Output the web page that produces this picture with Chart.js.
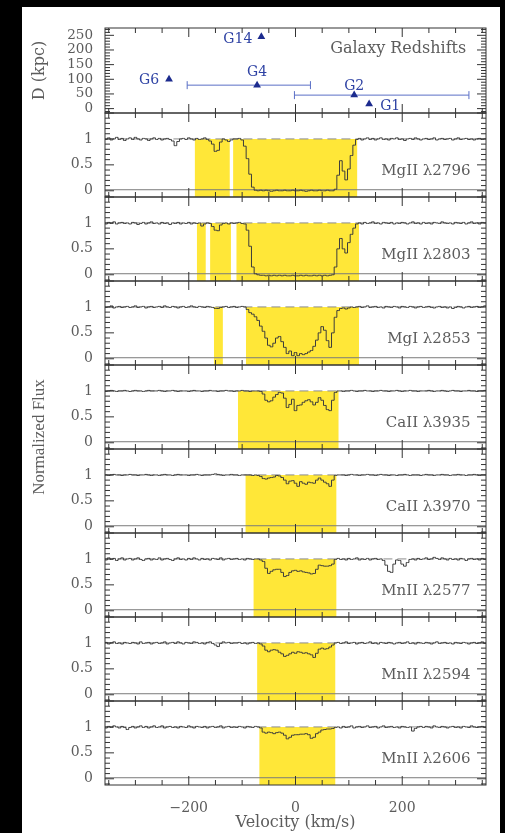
<!DOCTYPE html>
<html>
<head>
<meta charset="utf-8">
<script src="https://cdn.jsdelivr.net/npm/chart.js@4.4.1/dist/chart.umd.min.js"></script>
<style>
  html, body { margin: 0; padding: 0; background: #000; }
  #wrap { position: absolute; left: 22px; top: 7px; width: 478px; height: 826px; background: #fff; }
  canvas { display: block; }
</style>
</head>
<body>
<div id="wrap"><canvas id="absChart" width="478" height="826"></canvas></div>
<script>
// velocity grid of the spectra (km/s), one pixel every 5 km/s
const velocity = Array.from({ length: 145 }, (_, i) => -360 + 5 * i);

const velocityTicks = [-200, 0, 200];
const fluxTicks = [0, 0.5, 1];
const distTicks = [0, 50, 100, 150, 200, 250];

// top panel: galaxies near the absorber
const galaxyNames = ['G6', 'G14', 'G4', 'G2', 'G1'];
const galaxyVelocity = [-237, -64, -72, 110, 138];
const galaxyDistance = [100, 245, 80, 46, 16];
const galaxyVelLow = [null, null, -203, -2, null];
const galaxyVelHigh = [null, null, 28, 325, null];

const panelNames = ['MgII λ2796', 'MgII λ2803', 'MgI λ2853', 'CaII λ3935',
  'CaII λ3970', 'MnII λ2577', 'MnII λ2594', 'MnII λ2606'];

// shaded velocity windows [from, to] per transition
const windowsMgII2796 = [[-189, -123], [-117, 116]];
const windowsMgII2803 = [[-185, -168], [-160, -121], [-111, 119]];
const windowsMgI2853 = [[-153, -136], [-93, 119]];
const windowsCaII3935 = [[-108, 81]];
const windowsCaII3970 = [[-94, 77]];
const windowsMnII2577 = [[-79, 77]];
const windowsMnII2594 = [[-72, 75]];
const windowsMnII2606 = [[-68, 75]];

// normalized flux, rows of 50 km/s starting at -360
const fluxMgII2796 = [
  1.01, 0.99, 1.02, 0.98, 1.00, 1.03, 0.99, 1.01, 0.97, 1.00,
  1.02, 0.99, 1.03, 1.00, 0.98, 1.01, 1.00, 0.97, 1.00, 1.02,
  0.99, 1.01, 0.98, 1.00, 1.01, 0.99, 0.96, 0.87, 0.95, 1.00,
  1.01, 0.99, 1.02, 1.00, 0.98, 1.01, 0.99, 1.00, 1.02, 0.99,
  0.96, 0.90, 0.76, 0.78, 0.94, 1.00, 0.98, 0.95, 0.98, 1.00,
  1.00, 1.01, 0.98, 0.86, 0.62, 0.32, 0.07, 0.01, 0.00, 0.01,
  0.00, 0.01, 0.00, -0.01, 0.00, 0.01, 0.00, 0.00, 0.01, 0.00,
  0.00, 0.01, 0.00, 0.00, 0.01, 0.00, -0.01, 0.00, 0.01, 0.00,
  0.00, 0.01, 0.00, 0.00, 0.01, 0.00, 0.00, 0.03, 0.30, 0.58,
  0.38, 0.21, 0.42, 0.68, 0.88, 0.99, 1.01, 0.98, 1.00, 1.02,
  0.99, 1.01, 0.98, 1.00, 1.02, 0.99, 1.00, 0.98, 1.01, 1.00,
  1.02, 0.99, 1.00, 0.97, 1.00, 1.01, 0.99, 1.02, 1.00, 0.98,
  1.00, 1.01, 0.99, 1.00, 1.02, 0.98, 1.00, 1.01, 0.99, 1.00,
  1.01, 0.98, 1.00, 1.02, 0.99, 1.00, 1.01, 0.99, 1.00, 0.98,
  1.00, 1.01, 0.99, 1.00, 1.01
];
const fluxMgII2803 = [
  1.00, 0.98, 1.01, 0.99, 1.02, 0.98, 1.00, 1.01, 0.99, 1.00,
  0.98, 1.01, 1.00, 0.97, 0.99, 1.01, 0.98, 1.00, 1.02, 0.99,
  1.00, 0.98, 1.01, 0.99, 1.00, 0.97, 1.00, 0.99, 1.01, 0.98,
  1.00, 0.99, 1.01, 0.98, 1.00, 0.99, 1.00, 0.94, 0.98, 1.00,
  0.99, 0.93, 0.86, 0.85, 0.96, 0.99, 1.00, 0.98, 1.00, 0.99,
  1.00, 1.01, 0.99, 0.98, 0.86, 0.55, 0.15, 0.02, 0.00, -0.01,
  -0.01, -0.02, -0.01, -0.02, -0.01, -0.02, -0.01, -0.02, -0.01, -0.02,
  -0.02, -0.01, -0.02, -0.02, -0.01, -0.02, -0.01, -0.02, -0.02, -0.01,
  -0.02, -0.01, -0.02, -0.01, -0.02, -0.01, 0.00, 0.15, 0.50, 0.70,
  0.50, 0.42, 0.62, 0.78, 0.90, 0.98, 1.00, 0.98, 1.01, 0.99,
  1.00, 1.02, 0.99, 1.00, 0.98, 1.01, 1.00, 0.99, 1.01, 0.98,
  1.00, 0.99, 1.01, 1.00, 0.98, 1.00, 1.02, 0.99, 1.00, 0.98,
  1.01, 0.99, 1.00, 0.98, 1.01, 1.00, 0.99, 1.02, 1.00, 0.99,
  1.00, 0.98, 1.01, 1.00, 0.99, 1.01, 0.98, 1.00, 1.02, 0.99,
  1.00, 0.98, 1.01, 1.00, 0.99
];
const fluxMgI2853 = [
  1.01, 0.99, 1.00, 1.02, 0.98, 1.00, 1.01, 0.99, 1.00, 1.01,
  0.99, 1.00, 1.02, 0.99, 1.00, 1.01, 0.98, 1.00, 1.01, 0.99,
  1.00, 1.01, 0.99, 1.02, 1.00, 0.99, 1.01, 1.00, 0.98, 1.00,
  1.01, 0.99, 1.00, 1.02, 1.00, 0.99, 1.01, 1.00, 0.99, 1.01,
  1.00, 0.99, 0.97, 0.97, 0.99, 1.00, 1.01, 0.99, 1.00, 1.01,
  0.99, 1.00, 1.01, 1.00, 0.95, 0.89, 0.86, 0.81, 0.74, 0.63,
  0.53, 0.40, 0.26, 0.23, 0.30, 0.40, 0.43, 0.33, 0.22, 0.10,
  0.15, 0.06, 0.12, 0.06, 0.10, 0.08, 0.10, 0.13, 0.16, 0.24,
  0.36, 0.50, 0.62, 0.55, 0.35, 0.22, 0.50, 0.80, 0.93, 0.97,
  0.98, 0.96, 0.98, 1.00, 0.99, 1.00, 1.01, 0.99, 1.00, 1.02,
  0.99, 1.00, 1.01, 0.99, 1.00, 0.98, 1.01, 1.00, 0.99, 1.01,
  1.00, 0.98, 1.01, 1.00, 0.99, 1.01, 1.00, 0.98, 1.00, 1.01,
  0.99, 1.00, 1.01, 0.99, 0.98, 1.00, 1.01, 0.99, 1.00, 0.98,
  1.00, 0.97, 0.99, 1.01, 1.00, 0.98, 1.00, 1.01, 0.99, 1.00,
  1.01, 0.99, 1.00, 1.02, 1.00
];
const fluxCaII3935 = [
  1.00, 0.99, 1.00, 1.01, 1.00, 0.99, 1.00, 1.00, 1.01, 1.00,
  0.99, 1.00, 1.01, 1.00, 1.00, 0.99, 1.00, 1.01, 1.00, 1.00,
  1.00, 1.01, 1.00, 0.99, 1.00, 1.00, 1.01, 1.00, 0.99, 1.00,
  1.00, 1.00, 0.99, 1.00, 1.01, 1.00, 1.00, 0.99, 1.00, 1.00,
  1.01, 1.00, 1.00, 0.99, 1.00, 1.00, 1.01, 1.00, 1.00, 0.99,
  1.00, 1.00, 1.01, 1.00, 1.00, 0.99, 1.00, 1.00, 1.00, 0.99,
  0.94, 0.82, 0.79, 0.81, 0.88, 0.93, 0.97, 0.96, 0.86, 0.68,
  0.74, 0.84, 0.62, 0.72, 0.73, 0.78, 0.81, 0.83, 0.79, 0.73,
  0.78, 0.87, 0.82, 0.72, 0.64, 0.62, 0.82, 0.97, 1.00, 1.00,
  0.99, 1.00, 1.00, 1.01, 1.00, 0.99, 1.00, 1.00, 1.01, 1.00,
  1.00, 0.99, 1.00, 1.00, 1.01, 1.00, 1.00, 0.99, 1.00, 1.00,
  1.01, 1.00, 0.99, 1.00, 1.00, 1.01, 1.00, 1.00, 0.99, 1.00,
  1.00, 1.00, 1.01, 1.00, 0.99, 1.00, 1.00, 1.01, 1.00, 0.99,
  1.00, 1.01, 1.00, 1.00, 0.99, 1.00, 1.00, 1.01, 1.00, 1.00,
  0.99, 1.00, 1.00, 1.01, 1.00
];
const fluxCaII3970 = [
  1.00, 1.00, 0.99, 1.00, 1.01, 1.00, 1.00, 0.99, 1.00, 1.00,
  1.01, 1.00, 1.00, 0.99, 1.00, 1.00, 1.01, 1.00, 0.99, 1.00,
  1.00, 0.99, 1.00, 1.01, 1.00, 1.00, 0.99, 1.00, 1.01, 1.00,
  1.00, 1.00, 0.99, 1.00, 1.00, 1.01, 1.00, 0.99, 1.00, 1.00,
  1.00, 1.01, 1.02, 1.01, 1.00, 0.99, 1.00, 1.00, 1.01, 1.00,
  1.00, 0.99, 1.00, 1.00, 1.00, 1.00, 0.99, 1.00, 0.99, 0.97,
  0.93, 0.92, 0.94, 0.95, 0.96, 0.99, 0.98, 0.95, 0.90, 0.83,
  0.88, 0.89, 0.84, 0.78, 0.87, 0.84, 0.82, 0.86, 0.85, 0.84,
  0.90, 0.94, 0.90, 0.86, 0.83, 0.78, 0.90, 0.99, 1.00, 1.00,
  1.00, 0.99, 1.00, 1.01, 1.00, 1.00, 0.99, 1.00, 1.00, 1.01,
  1.00, 1.00, 0.99, 1.00, 1.01, 1.00, 1.00, 0.99, 1.00, 1.00,
  0.99, 1.00, 1.00, 1.01, 1.00, 0.99, 1.00, 1.00, 1.00, 0.99,
  1.00, 1.01, 1.00, 1.00, 0.99, 1.00, 1.00, 1.01, 1.00, 1.00,
  0.99, 1.00, 1.00, 1.01, 1.00, 1.00, 0.99, 1.00, 1.00, 1.01,
  1.00, 0.99, 1.00, 1.00, 1.00
];
const fluxMnII2577 = [
  1.00, 0.98, 1.02, 0.99, 1.01, 0.97, 1.00, 1.02, 0.98, 1.00,
  1.01, 0.98, 1.00, 1.02, 0.99, 0.97, 1.00, 1.01, 0.98, 1.00,
  0.99, 1.02, 0.98, 1.00, 1.01, 0.99, 0.97, 1.00, 1.02, 0.99,
  1.00, 0.98, 1.01, 0.99, 1.02, 1.00, 0.98, 1.01, 0.99, 1.00,
  0.98, 1.01, 1.00, 0.99, 1.02, 0.98, 1.00, 1.01, 0.99, 1.00,
  1.01, 0.99, 1.00, 0.98, 1.01, 1.00, 0.99, 1.00, 1.00, 0.98,
  0.95, 0.82, 0.72, 0.76, 0.79, 0.80, 0.80, 0.74, 0.66, 0.68,
  0.74, 0.77, 0.78, 0.76, 0.77, 0.75, 0.74, 0.73, 0.71, 0.72,
  0.80, 0.88, 0.87, 0.86, 0.86, 0.87, 0.90, 0.99, 1.01, 0.99,
  1.00, 0.98, 1.01, 0.99, 1.00, 1.02, 0.98, 1.00, 0.99, 1.01,
  0.98, 1.00, 1.01, 0.99, 1.00, 0.97, 0.88, 0.76, 0.74, 0.90,
  0.98, 0.97, 0.90, 0.86, 0.93, 0.99, 1.00, 0.98, 1.01, 0.99,
  1.00, 1.02, 0.99, 1.00, 1.03, 1.01, 0.99, 1.02, 1.00, 0.98,
  1.01, 0.99, 1.00, 0.98, 1.01, 1.00, 0.97, 1.00, 1.01, 0.99,
  1.00, 0.98, 1.01, 0.99, 1.00
];
const fluxMnII2594 = [
  0.99, 1.01, 0.98, 1.00, 1.02, 0.99, 1.00, 0.98, 1.01, 1.00,
  0.99, 1.01, 1.00, 0.98, 1.02, 0.99, 1.00, 1.01, 0.98, 1.00,
  1.01, 0.99, 1.00, 1.02, 0.98, 1.00, 1.01, 0.99, 1.02, 1.00,
  0.98, 1.01, 1.00, 0.99, 1.02, 1.01, 0.99, 1.00, 0.98, 1.01,
  1.02, 0.99, 0.96, 0.93, 0.99, 1.02, 1.00, 1.01, 0.99, 1.00,
  1.00, 1.01, 0.99, 1.00, 0.98, 1.00, 1.01, 0.99, 1.00, 0.98,
  0.94, 0.86, 0.83, 0.86, 0.87, 0.86, 0.82, 0.79, 0.74, 0.76,
  0.79, 0.82, 0.80, 0.83, 0.82, 0.80, 0.81, 0.79, 0.77, 0.72,
  0.80, 0.88, 0.90, 0.88, 0.89, 0.92, 0.96, 1.00, 1.01, 0.99,
  1.00, 1.02, 0.99, 1.00, 1.01, 0.98, 1.00, 1.01, 0.99, 1.00,
  1.02, 0.99, 1.00, 0.98, 1.01, 1.00, 0.99, 1.01, 1.00, 0.98,
  1.00, 1.01, 0.99, 1.00, 1.02, 0.99, 1.00, 0.98, 1.01, 1.00,
  0.99, 1.01, 1.00, 0.98, 1.00, 1.02, 0.99, 1.00, 1.01, 0.99,
  1.00, 0.98, 1.01, 1.00, 0.99, 1.01, 1.00, 0.98, 1.00, 1.01,
  0.99, 1.00, 1.02, 0.99, 1.00
];
const fluxMnII2606 = [
  1.00, 0.98, 1.01, 0.99, 1.02, 1.00, 0.98, 1.01, 0.99, 0.95,
  0.99, 1.01, 0.98, 1.00, 1.02, 0.99, 1.01, 0.98, 1.00, 1.02,
  0.99, 1.00, 1.02, 0.98, 1.00, 1.01, 0.99, 1.00, 0.98, 1.01,
  1.00, 0.99, 1.02, 1.00, 0.98, 1.01, 1.00, 0.99, 1.01, 0.98,
  1.00, 1.01, 0.99, 1.00, 1.02, 0.98, 1.00, 1.01, 0.99, 1.00,
  0.99, 1.01, 1.00, 0.98, 1.01, 1.00, 0.99, 1.01, 1.00, 0.98,
  0.90, 0.88, 0.90, 0.89, 0.87, 0.89, 0.90, 0.88, 0.84, 0.77,
  0.80, 0.84, 0.85, 0.85, 0.86, 0.86, 0.87, 0.85, 0.78, 0.80,
  0.87, 0.90, 0.94, 0.95, 0.96, 0.96, 0.97, 0.99, 1.00, 0.98,
  1.01, 0.99, 1.00, 1.02, 0.98, 1.00, 1.01, 0.99, 1.00, 1.02,
  0.99, 1.00, 1.01, 0.98, 1.00, 1.02, 0.99, 1.00, 1.01, 0.99,
  1.00, 0.98, 1.01, 1.00, 0.99, 1.00, 0.92, 0.97, 1.00, 1.01,
  0.99, 1.01, 1.00, 0.98, 1.02, 1.00, 0.99, 1.01, 1.00, 0.98,
  1.00, 1.01, 0.99, 1.00, 0.98, 1.01, 1.00, 0.99, 1.02, 1.00,
  0.99, 1.00, 1.01, 0.99, 1.00
];

const panelFlux = [fluxMgII2796, fluxMgII2803, fluxMgI2853, fluxCaII3935,
  fluxCaII3970, fluxMnII2577, fluxMnII2594, fluxMnII2606];
const panelWindows = [windowsMgII2796, windowsMgII2803, windowsMgI2853, windowsCaII3935,
  windowsCaII3970, windowsMnII2577, windowsMnII2594, windowsMnII2606];
const continuumLevel = 1;
const errorLevel = 0.02;

const YELLOW = '#ffe738';
const BLUE = '#1c2b8e';
const LIGHT_BLUE = '#5a6fc6';
const TEXT = '#5c5c5c';
const serif = 'DejaVu Serif';

document.addEventListener('DOMContentLoaded', () => {
  const datasets = [];

  // error bars of the galaxy redshifts
  galaxyNames.forEach((name, i) => {
    if (galaxyVelLow[i] === null) return;
    datasets.push({
      data: [{ x: galaxyVelLow[i], y: galaxyDistance[i] }, { x: galaxyVelHigh[i], y: galaxyDistance[i] }],
      yAxisID: 'yD',
      borderColor: LIGHT_BLUE,
      borderWidth: 1,
      pointStyle: 'line',
      pointRotation: 90,
      pointRadius: 4,
      pointBorderColor: LIGHT_BLUE,
      pointBorderWidth: 1,
      order: 2
    });
  });

  const galaxyIndex = datasets.length;
  datasets.push({
    data: galaxyNames.map((n, i) => ({ x: galaxyVelocity[i], y: galaxyDistance[i] })),
    yAxisID: 'yD',
    showLine: false,
    pointStyle: 'triangle',
    pointRadius: 4.5,
    backgroundColor: BLUE,
    borderColor: BLUE,
    borderWidth: 0,
    order: 1
  });

  panelNames.forEach((name, p) => {
    const axis = 'y' + (p + 1);
    panelWindows[p].forEach(([a, b]) => {
      datasets.push({
        data: [{ x: a, y: continuumLevel }, { x: b, y: continuumLevel }],
        yAxisID: axis,
        backgroundColor: YELLOW,
        borderWidth: 0,
        pointRadius: 0,
        fill: 'start',
        order: 4
      });
    });
    datasets.push({
      data: [{ x: -360, y: continuumLevel }, { x: 360, y: continuumLevel }],
      yAxisID: axis,
      borderColor: '#8c8c8c',
      borderWidth: 1,
      borderDash: [9, 5],
      pointRadius: 0,
      order: 3
    });
    datasets.push({
      data: [{ x: -360, y: errorLevel }, { x: 360, y: errorLevel }],
      yAxisID: axis,
      borderColor: '#7a7a7a',
      borderWidth: 1,
      pointRadius: 0,
      order: 3
    });
    datasets.push({
      data: velocity.map((v, k) => ({ x: v, y: panelFlux[p][k] })),
      yAxisID: axis,
      borderColor: '#3c3c3c',
      borderWidth: 1,
      stepped: 'middle',
      pointRadius: 0,
      order: 1
    });
  });

  const tickFont = { family: serif, size: 14 };

  const scales = {
    x: {
      type: 'linear',
      min: -357,
      max: 357,
      grid: { display: false, drawTicks: false },
      border: { display: false },
      afterBuildTicks: s => { s.ticks = velocityTicks.map(v => ({ value: v })); },
      afterFit: s => { s.height = 48; },
      ticks: {
        autoSkip: false, maxRotation: 0, padding: 15, color: TEXT, font: tickFont,
        callback: v => v < 0 ? '\u2212' + Math.abs(v) : String(v)
      },
      title: {
        display: true, text: 'Velocity (km/s)', color: TEXT,
        font: { family: serif, size: 16 }, padding: { top: 0, bottom: 1 }
      }
    },
    yD: {
      type: 'linear',
      position: 'left',
      stack: 'panels',
      stackWeight: 85,
      weight: 20,
      min: -15,
      max: 275,
      grid: { display: false, drawTicks: false },
      border: { display: false },
      afterBuildTicks: s => { s.ticks = distTicks.map(v => ({ value: v })); },
      afterFit: s => { s.width = 83; },
      ticks: { autoSkip: false, padding: 12, color: TEXT, font: { family: serif, size: 13.5 }, callback: v => String(v) },
      title: { display: true, text: 'D (kpc)', color: TEXT, font: { family: serif, size: 16 }, padding: 8 }
    }
  };

  panelNames.forEach((name, p) => {
    scales['y' + (p + 1)] = {
      type: 'linear',
      position: 'left',
      stack: 'panels',
      stackWeight: 84,
      weight: 10 - p,
      min: -0.12,
      max: 1.5,
      grid: { display: false, drawTicks: false },
      border: { display: false },
      afterBuildTicks: s => { s.ticks = fluxTicks.map(v => ({ value: v })); },
      afterFit: s => { s.width = 83; },
      ticks: { autoSkip: false, padding: 12, color: TEXT, font: tickFont, callback: v => String(v) }
    };
  });

  const frameSpecs = { yD: { step: 10, from: -1, to: 27, major: 5 } };
  panelNames.forEach((n, p) => { frameSpecs['y' + (p + 1)] = { step: 0.1, from: -1, to: 15, major: 5 }; });

  // frames with inward ticks, panel labels and galaxy names
  const decorPlugin = {
    id: 'decor',
    afterDatasetsDraw(chart) {
      const { ctx, chartArea } = chart;
      const xs = chart.scales.x;
      const { left, right } = chartArea;
      const seg = (x1, y1, x2, y2) => { ctx.beginPath(); ctx.moveTo(x1, y1); ctx.lineTo(x2, y2); ctx.stroke(); };
      ctx.save();
      ctx.strokeStyle = '#333';
      ctx.lineWidth = 1;
      Object.keys(frameSpecs).forEach(id => {
        const s = chart.scales[id];
        const spec = frameSpecs[id];
        ctx.strokeRect(left, s.top, right - left, s.bottom - s.top);
        for (let k = -7; k <= 7; k++) {
          const px = xs.getPixelForValue(k * 50);
          const len = (k * 50) % 200 === 0 ? 9 : 5;
          seg(px, s.top, px, s.top + len);
          seg(px, s.bottom, px, s.bottom - len);
        }
        for (let k = spec.from; k <= spec.to; k++) {
          const py = s.getPixelForValue(k * spec.step);
          if (py < s.top || py > s.bottom) continue;
          const len = k % spec.major === 0 ? 9 : 5;
          seg(left, py, left + len, py);
          seg(right, py, right - len, py);
        }
      });

      ctx.fillStyle = TEXT;
      ctx.textBaseline = 'middle';
      ctx.textAlign = 'right';
      ctx.font = '15px "' + serif + '"';
      panelNames.forEach((name, p) => {
        const s = chart.scales['y' + (p + 1)];
        ctx.fillText(name, xs.getPixelForValue(328), s.getPixelForValue(0.38));
      });
      ctx.font = '16px "' + serif + '"';
      ctx.fillText('Galaxy Redshifts', xs.getPixelForValue(320), chart.scales.yD.getPixelForValue(203));

      // galaxy names beside their markers
      const offsets = { G6: [-10, 1, 'right'], G14: [-9, 3, 'right'], G4: [0, -13, 'center'], G2: [0, -9, 'center'], G1: [11, 2, 'left'] };
      const pts = chart.getDatasetMeta(galaxyIndex).data;
      ctx.fillStyle = '#2f43a4';
      ctx.font = '14px "' + serif + '"';
      galaxyNames.forEach((name, i) => {
        const [dx, dy, align] = offsets[name];
        ctx.textAlign = align;
        ctx.fillText(name, pts[i].x + dx, pts[i].y + dy);
      });

      // shared y title of the flux panels
      const midY = (chart.scales.y1.top + chart.scales.y8.bottom) / 2 - 12;
      ctx.translate(18, midY);
      ctx.rotate(-Math.PI / 2);
      ctx.textAlign = 'center';
      ctx.fillStyle = TEXT;
      ctx.font = '17px "Liberation Serif"';
      ctx.fillText('Normalized Flux', 0, 0);
      ctx.restore();
    }
  };

  const ctx = document.getElementById('absChart').getContext('2d');
  new Chart(ctx, {
    type: 'line',
    data: { datasets },
    options: {
      responsive: false,
      animation: false,
      layout: { padding: { left: 0, right: 14, top: 21, bottom: 0 } },
      plugins: { legend: { display: false }, tooltip: { enabled: false } },
      scales
    },
    plugins: [decorPlugin]
  });
});
</script>
</body>
</html>
